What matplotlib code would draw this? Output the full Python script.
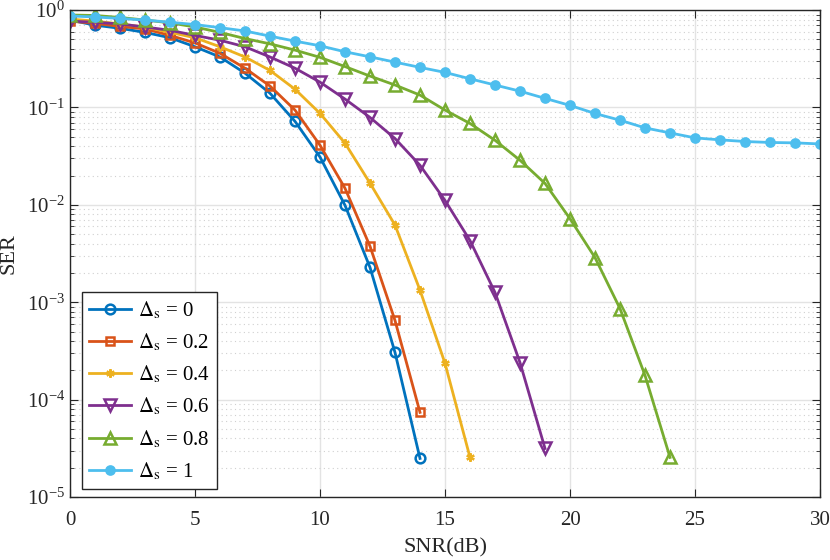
import matplotlib
matplotlib.use("Agg")
import matplotlib.pyplot as plt
from matplotlib.ticker import LogLocator, NullFormatter, FixedLocator

plt.rcParams['font.family'] = ['Liberation Serif', 'DejaVu Serif']
plt.rcParams['mathtext.fontset'] = 'stix'

snr_0 = list(range(0, 15))
ser_0 = [0.79, 0.70, 0.65, 0.59, 0.52, 0.42, 0.33, 0.225, 0.14, 0.072,
         0.031, 0.0099, 0.00228, 3.05e-4, 2.49e-5]
snr_02 = list(range(0, 15))
ser_02 = [0.77, 0.73, 0.68, 0.64, 0.55, 0.46, 0.36, 0.253, 0.166, 0.094,
          0.041, 0.0148, 0.00376, 6.5e-4, 7.4e-5]
snr_04 = list(range(0, 17))
ser_04 = [0.81, 0.77, 0.72, 0.67, 0.59, 0.52, 0.42, 0.33, 0.24, 0.154,
          0.087, 0.043, 0.0167, 0.0062, 0.00133, 2.36e-4, 2.55e-5]
snr_06 = list(range(0, 20))
ser_06 = [0.77, 0.75, 0.72, 0.67, 0.62, 0.55, 0.49, 0.42, 0.33, 0.253,
          0.182, 0.122, 0.079, 0.048, 0.0255, 0.0111, 0.0043, 0.00126,
          2.4e-4, 3.15e-5]
snr_08 = list(range(0, 25))
ser_08 = [0.89, 0.88, 0.84, 0.79, 0.74, 0.67, 0.59, 0.51, 0.45, 0.388,
          0.327, 0.263, 0.21, 0.17, 0.134, 0.094, 0.0685, 0.046, 0.0287,
          0.0166, 0.0072, 0.00287, 8.6e-4, 1.77e-4, 2.55e-5]
snr_1 = list(range(0, 31))
ser_1 = [0.87, 0.85, 0.82, 0.79, 0.75, 0.71, 0.66, 0.61, 0.54, 0.48,
         0.43, 0.373, 0.331, 0.292, 0.258, 0.229, 0.197, 0.170, 0.147,
         0.124, 0.105, 0.0867, 0.074, 0.0617, 0.0548, 0.0487, 0.0465,
         0.0447, 0.0437, 0.0433, 0.0422]

labels = [r'$\Delta_{\mathrm{s}}$ = 0', r'$\Delta_{\mathrm{s}}$ = 0.2',
          r'$\Delta_{\mathrm{s}}$ = 0.4', r'$\Delta_{\mathrm{s}}$ = 0.6',
          r'$\Delta_{\mathrm{s}}$ = 0.8', r'$\Delta_{\mathrm{s}}$ = 1']
xticks = [0, 5, 10, 15, 20, 25, 30]

fig = plt.figure(figsize=(8.3, 5.6), dpi=100)
ax = fig.add_axes([0.0843, 0.1125, 0.9037, 0.8695])

styles = [
    dict(color='#0072BD', marker='o', mfc='none', ms=7, mew=1.8),
    dict(color='#D95319', marker='s', mfc='none', ms=6, mew=1.8),
    dict(color='#EDB120', marker=(6, 2, 0), mfc='none', ms=6, mew=1.6),
    dict(color='#7E2F8E', marker='v', mfc='none', ms=8.5, mew=1.8),
    dict(color='#77AC30', marker='^', mfc='none', ms=8.5, mew=1.8),
    dict(color='#4DBEEE', marker='o', mfc='#4DBEEE', ms=6.5, mew=1.2),
]
data = [(snr_0, ser_0), (snr_02, ser_02), (snr_04, ser_04),
        (snr_06, ser_06), (snr_08, ser_08), (snr_1, ser_1)]
for (x, y), st, lab in zip(data, styles, labels):
    ax.semilogy(x, y, lw=2, label=lab, **st)

ax.set_xlim(0, 30)
ax.set_ylim(1e-5, 1)
ax.xaxis.set_major_locator(FixedLocator(xticks))
ax.yaxis.set_major_locator(LogLocator(base=10, numticks=10))
ax.yaxis.set_minor_locator(LogLocator(base=10, subs=range(2, 10), numticks=20))
ax.yaxis.set_minor_formatter(NullFormatter())

ax.grid(True, which='major', color='#e3e3e3', lw=1.0, ls='-')
ax.grid(True, which='minor', axis='y', color='#d0d0d0', lw=0.8, ls=(0, (1, 3)))
ax.set_axisbelow(True)

for s in ax.spines.values():
    s.set_color('#262626')
    s.set_linewidth(1.0)
ax.tick_params(which='both', direction='in', top=True, right=True,
               colors='#262626', labelcolor='#262626', labelsize=15)
ax.tick_params(which='major', length=6)
ax.tick_params(which='minor', length=3)
ax.tick_params(axis='x', pad=10)

ax.set_xlabel('SNR(dB)', fontsize=16, color='#262626', labelpad=6)
ax.set_ylabel('SER', fontsize=16, color='#262626')
ax.yaxis.set_label_coords(-0.068, 0.5)

leg = ax.legend(loc='lower left', bbox_to_anchor=(0.016, 0.016), fontsize=15,
                borderaxespad=0, handlelength=2.0, handletextpad=0.35,
                labelspacing=0.5, borderpad=0.35, fancybox=False,
                framealpha=1, edgecolor='#262626')
leg.get_frame().set_linewidth(1.0)

fig.savefig('out.png', dpi=100)
